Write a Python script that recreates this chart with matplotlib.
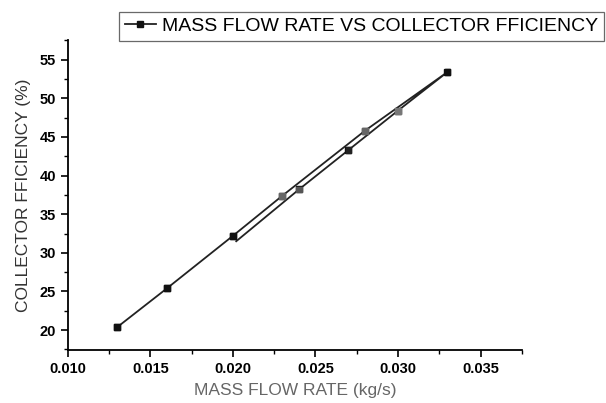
import matplotlib
matplotlib.use("Agg")
import matplotlib.pyplot as plt
from matplotlib.ticker import MultipleLocator

plt.rcParams['font.family'] = ['Liberation Sans', 'DejaVu Sans']

# data (path order as drawn)
flow = [0.013, 0.016, 0.020, 0.023, 0.028, 0.033, 0.030, 0.027, 0.024, 0.0202]
eff = [20.4, 25.4, 32.2, 37.4, 45.8, 53.4, 48.4, 43.3, 38.2, 31.5]
mark_col = ['#111111', '#111111', '#111111', '#666666', '#666666',
            '#111111', '#777777', '#222222', '#555555']

fig = plt.figure(figsize=(6.06, 4.03), dpi=100)
ax = fig.add_axes([0.112, 0.131, 0.749, 0.769])

line, = ax.plot(flow, eff, color='#222222', lw=1.3, marker='s', ms=4.5,
                mfc='#111111', mec='#111111', markevery=list(range(9)),
                label='MASS FLOW RATE VS COLLECTOR FFICIENCY')
ax.scatter(flow[:9], eff[:9], marker='s', s=18, c=mark_col, zorder=3)

ax.set_xlim(0.010, 0.0375)
ax.set_ylim(17.4, 57.5)
ax.xaxis.set_major_locator(MultipleLocator(0.005))
ax.xaxis.set_minor_locator(MultipleLocator(0.0025))
ax.yaxis.set_major_locator(MultipleLocator(5))
ax.yaxis.set_minor_locator(MultipleLocator(2.5))
ax.xaxis.set_major_formatter(plt.FuncFormatter(lambda v, p: f"{v:.3f}"))

for s in ['top', 'right']:
    ax.spines[s].set_visible(False)
for s in ['left', 'bottom']:
    ax.spines[s].set_linewidth(1.3)
ax.tick_params(which='major', direction='out', length=5, width=1.2,
               labelsize=10.5)
ax.tick_params(which='minor', direction='out', length=3, width=1.0)
for t in ax.get_xticklabels() + ax.get_yticklabels():
    t.set_fontweight('bold')

ax.set_xlabel('MASS FLOW RATE (kg/s)', fontsize=12.5, color='#666666',
              labelpad=5)
ax.set_ylabel('COLLECTOR FFICIENCY (%)', fontsize=12.5, color='#333333',
              labelpad=6)

leg = fig.legend(handles=[line], loc='upper left',
                 bbox_to_anchor=(0.18, 0.995), fontsize=14,
                 frameon=True, fancybox=False, edgecolor='#444444',
                 handlelength=1.6, borderpad=0.3, handletextpad=0.3)
leg.get_frame().set_linewidth(0.9)

fig.savefig('out.png', dpi=100)
